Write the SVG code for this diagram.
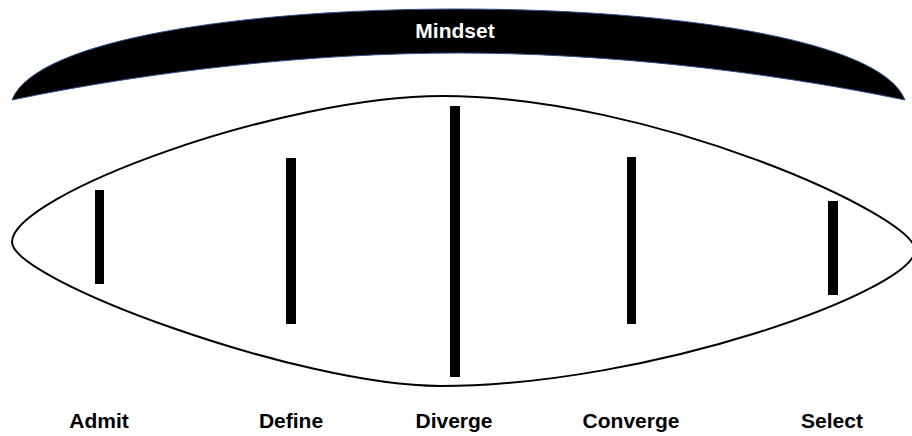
<svg xmlns="http://www.w3.org/2000/svg" width="912" height="436" viewBox="0 0 912 436">
  <style>
    .bar { fill: #000; }
    .lbl { font-family: "Liberation Sans", Arial, sans-serif; font-weight: bold; font-size: 21px; fill: #000; text-anchor: middle; }
    .title { font-family: "Liberation Sans", Arial, sans-serif; font-weight: bold; font-size: 21px; fill: #fff; text-anchor: middle; }
  </style>
  <rect width="912" height="436" fill="#fff"/>
  <g id="mindset">
    <path d="M12,100 C36,38 250,9 458,9 C666,9 881,38 905,100 C760,70 600,53 458,53 C316,53 156,70 12,100 Z" fill="#000" stroke="#2f528f" stroke-width="1"/>
    <text class="title" x="455" y="38">Mindset</text>
  </g>
  <g id="lens">
    <path d="M12,242 C12,195 280,96 443,96 C650,96 915,215 915,250 C915,290 650,386 440,386 C300,386 12,280 12,242 Z" fill="none" stroke="#000" stroke-width="2"/>
  </g>
  <g id="admit">
    <rect class="bar" x="95" y="190" width="9" height="94"/>
    <text class="lbl" x="99" y="428">Admit</text>
  </g>
  <g id="define">
    <rect class="bar" x="286" y="158" width="10" height="166"/>
    <text class="lbl" x="291" y="428">Define</text>
  </g>
  <g id="diverge">
    <rect class="bar" x="450" y="106" width="10" height="271"/>
    <text class="lbl" x="454" y="428">Diverge</text>
  </g>
  <g id="converge">
    <rect class="bar" x="627" y="157" width="9" height="167"/>
    <text class="lbl" x="631" y="428">Converge</text>
  </g>
  <g id="select">
    <rect class="bar" x="828" y="201" width="10" height="94"/>
    <text class="lbl" x="832" y="428">Select</text>
  </g>
  <g id="connectors"></g>
</svg>
